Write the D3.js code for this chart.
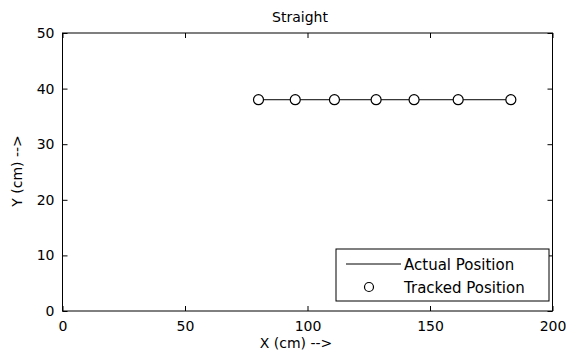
<!DOCTYPE html>
<html>
<head>
<meta charset="utf-8">
<script src="https://cdn.jsdelivr.net/npm/d3@7"></script>
<style>
	body { margin: 0; background: #fff; }
	text { font-family: 'DejaVu Sans', sans-serif; fill: #000; }
</style>
</head>
<body>
<svg id="chart" width="566" height="355"></svg>
<script>

var actualX = [80, 95, 111, 128, 143.5, 161.5, 183]
var actualY = [38, 38, 38, 38, 38, 38, 38]
var trackedX = [80, 95, 111, 128, 143.5, 161.5, 183]
var trackedY = [38, 38, 38, 38, 38, 38, 38]
var xTicks = [0, 50, 100, 150, 200]
var yTicks = [0, 10, 20, 30, 40, 50]
var legendNames = ['Actual Position', 'Tracked Position']

// plot box edges (top is a window property, so use other names)
var boxL = 62.5, boxR = 552.5, boxT = 33, boxB = 311

var svg = d3.select('#chart')

var x = d3.scaleLinear().domain([0, 200]).range([boxL, boxR])
var y = d3.scaleLinear().domain([0, 50]).range([boxB, boxT])

svg.append('rect')
	.attr('x', boxL)
	.attr('y', boxT)
	.attr('width', boxR - boxL)
	.attr('height', boxB - boxT)
	.attr('fill', '#fff')
	.attr('stroke', '#000')
	.attr('stroke-width', 1)

// ticks on all four sides, pointing inward
var tickLen = 5
svg.append('g')
	.attr('transform', 'translate(0,' + boxB + ')')
	.call(d3.axisBottom(x).tickValues(xTicks).tickSizeInner(-tickLen).tickSizeOuter(0).tickPadding(10))
	.call(g => g.select('.domain').remove())
	.call(g => g.selectAll('text').attr('font-size', 14).style('font-family', 'DejaVu Sans'))
svg.append('g')
	.attr('transform', 'translate(0,' + boxT + ')')
	.call(d3.axisTop(x).tickValues(xTicks).tickSizeInner(-tickLen).tickSizeOuter(0).tickFormat(''))
	.call(g => g.select('.domain').remove())
svg.append('g')
	.attr('transform', 'translate(' + boxL + ',0)')
	.call(d3.axisLeft(y).tickValues(yTicks).tickSizeInner(-tickLen).tickSizeOuter(0).tickPadding(8))
	.call(g => g.select('.domain').remove())
	.call(g => g.selectAll('text').attr('font-size', 14).style('font-family', 'DejaVu Sans'))
svg.append('g')
	.attr('transform', 'translate(' + boxR + ',0)')
	.call(d3.axisRight(y).tickValues(yTicks).tickSizeInner(-tickLen).tickSizeOuter(0).tickFormat(''))
	.call(g => g.select('.domain').remove())

// actual position line
var pts = actualX.map((d, i) => [d, actualY[i]])
svg.append('path')
	.attr('d', d3.line().x(d => x(d[0])).y(d => y(d[1]))(pts))
	.attr('fill', 'none')
	.attr('stroke', '#000')
	.attr('stroke-width', 1)

// tracked position markers
svg.selectAll('.tracked')
	.data(trackedX.map((d, i) => [d, trackedY[i]]))
	.enter().append('circle')
	.attr('class', 'tracked')
	.attr('cx', d => x(d[0]))
	.attr('cy', d => y(d[1]))
	.attr('r', 5)
	.attr('fill', '#fff')
	.attr('stroke', '#000')
	.attr('stroke-width', 1.2)

svg.append('text')
	.attr('x', 300)
	.attr('y', 22)
	.attr('text-anchor', 'middle')
	.attr('font-size', 14)
	.text('Straight')

svg.append('text')
	.attr('x', 296)
	.attr('y', 348)
	.attr('text-anchor', 'middle')
	.attr('font-size', 14)
	.text('X (cm) -->')

svg.append('text')
	.attr('transform', 'translate(22,171) rotate(-90)')
	.attr('text-anchor', 'middle')
	.attr('font-size', 14)
	.text('Y (cm) -->')

// legend
var lg = svg.append('g').attr('transform', 'translate(336,249)')
lg.append('rect')
	.attr('width', 213)
	.attr('height', 52)
	.attr('fill', '#fff')
	.attr('stroke', '#000')
	.attr('stroke-width', 1)

lg.append('line')
	.attr('x1', 10).attr('x2', 65)
	.attr('y1', 15).attr('y2', 15)
	.attr('stroke', '#000')

lg.append('circle')
	.attr('cx', 33)
	.attr('cy', 38)
	.attr('r', 4.5)
	.attr('fill', '#fff')
	.attr('stroke', '#000')
	.attr('stroke-width', 1.2)

lg.selectAll('.lgtext')
	.data(legendNames)
	.enter().append('text')
	.attr('class', 'lgtext')
	.attr('x', 68)
	.attr('y', (d, i) => 21 + i * 23)
	.attr('font-size', 15)
	.text(d => d)

</script>
</body>
</html>
